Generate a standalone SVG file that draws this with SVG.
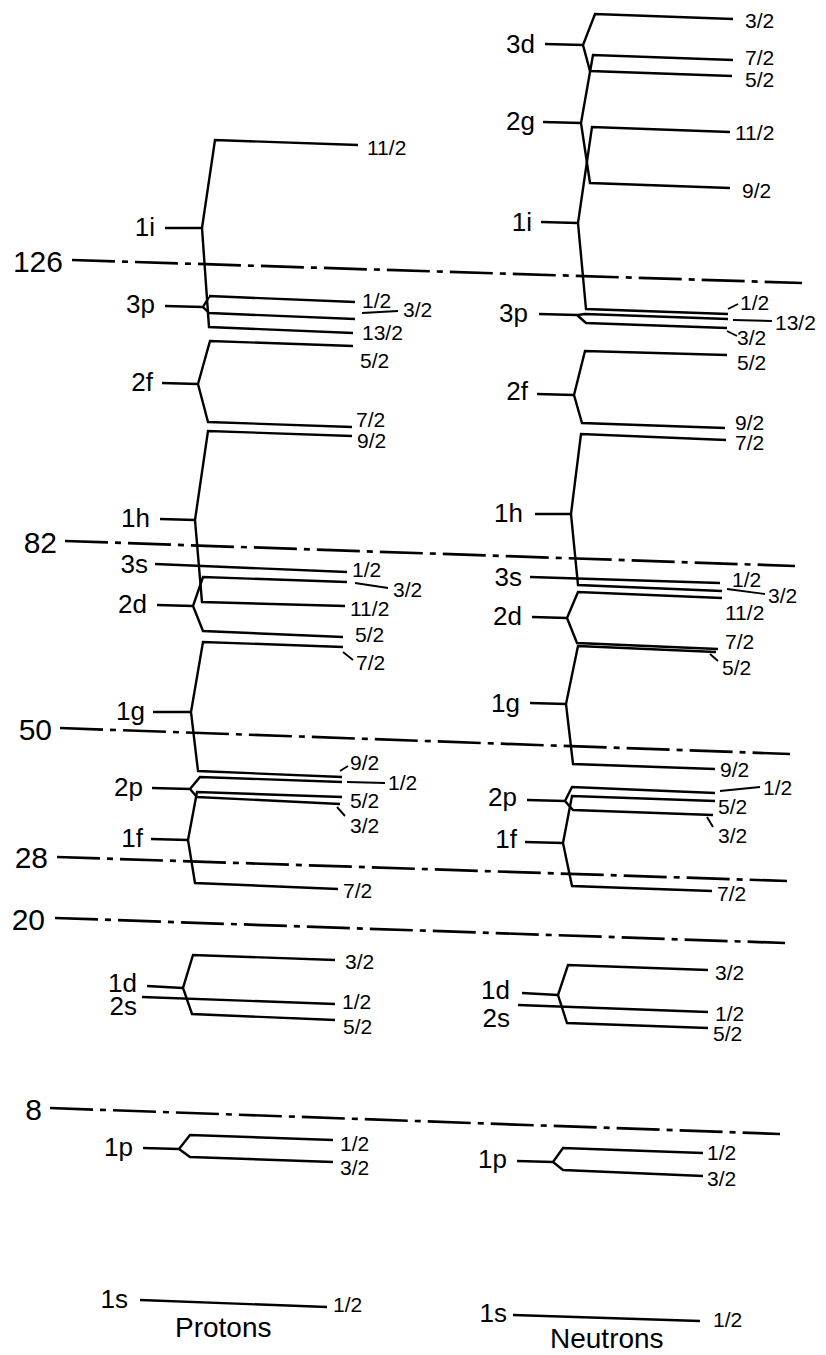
<svg xmlns="http://www.w3.org/2000/svg" width="826" height="1355" viewBox="0 0 826 1355">
<style>
.lv{stroke:#000;stroke-width:2.4;fill:none;stroke-linejoin:miter;stroke-linecap:butt}
.ld{stroke:#000;stroke-width:1.9;fill:none}
.mg{stroke:#000;stroke-width:2.7;fill:none;stroke-dasharray:43 7 6 7}
text{font-family:"Liberation Sans",Arial,Helvetica,sans-serif;fill:#000}
.orb{font-size:26px;text-anchor:end}
.j{font-size:21px}
.mag{font-size:30px;text-anchor:end}
.col{font-size:28px}
</style>
<rect width="826" height="1355" fill="#fff"/>

<g id="magic-numbers">
<path class="mg" d="M72,260 L802,283"/><text class="mag" x="63" y="272">126</text>
<path class="mg" d="M65,541 L795,566"/><text class="mag" x="57" y="553">82</text>
<path class="mg" d="M60,728 L790,754"/><text class="mag" x="52" y="740">50</text>
<path class="mg" d="M57,857 L787,881"/><text class="mag" x="48" y="868">28</text>
<path class="mg" d="M55,918 L785,943"/><text class="mag" x="45" y="930">20</text>
<path class="mg" d="M50,1108 L780,1134"/><text class="mag" x="42" y="1120">8</text>
</g>

<!-- Protons -->
<g id="p-1i">
<text class="orb" x="155" y="236">1i</text>
<path class="lv" d="M165,228 L202,228 M358,145 L215,140 L202,228 L209,327 L353,333"/>
<text class="j" x="367" y="155">11/2</text>
<text class="j" x="362" y="340">13/2</text>
</g>
<g id="p-3p">
<text class="orb" x="155" y="313">3p</text>
<path class="lv" d="M165,306 L203,307 M209,297 L203,307 L209,313 M209,296 L355,302 M209,313 L355,319"/>
<text class="j" x="362" y="308">1/2</text>
<text class="j" x="403" y="317">3/2</text>
</g>
<g id="p-2f">
<text class="orb" x="153" y="391">2f</text>
<path class="lv" d="M162,383 L198,384 M353,346 L210,341 L198,384 L208,422 L352,427"/>
<text class="j" x="360" y="368">5/2</text>
<text class="j" x="356" y="427">7/2</text>
</g>
<g id="p-1h">
<text class="orb" x="150" y="527">1h</text>
<path class="lv" d="M160,519 L195,520 M352,436 L208,431 L195,520 L202,602 L345,606"/>
<text class="j" x="357" y="448">9/2</text>
<text class="j" x="350" y="616">11/2</text>
</g>
<g id="p-3s">
<text class="orb" x="148" y="573">3s</text>
<path class="lv" d="M155,564 L347,572"/>
<text class="j" x="352" y="577">1/2</text>
</g>
<g id="p-2d">
<text class="orb" x="147" y="613">2d</text>
<path class="lv" d="M157,605 L193,606 M347,582 L203,577 L193,606 L203,631 L343,637"/>
<text class="j" x="393" y="597">3/2</text>
<text class="j" x="355" y="642">5/2</text>
</g>
<g id="p-1g">
<text class="orb" x="145" y="720">1g</text>
<path class="lv" d="M153,712 L191,712 M343,647 L203,642 L191,712 L198,771 L342,777"/>
<text class="j" x="356" y="670">7/2</text>
<text class="j" x="350" y="770">9/2</text>
</g>
<g id="p-2p">
<text class="orb" x="143" y="796">2p</text>
<path class="lv" d="M152,788 L190,789 M342,782 L200,777 L190,789 L197,797 L340,804"/>
<text class="j" x="388" y="790">1/2</text>
<text class="j" x="350" y="833">3/2</text>
</g>
<g id="p-1f">
<text class="orb" x="143" y="847">1f</text>
<path class="lv" d="M151,839 L188,840 M342,797 L197,792 L188,840 L195,883 L338,889"/>
<text class="j" x="350" y="808">5/2</text>
<text class="j" x="343" y="898">7/2</text>
</g>
<g id="p-1d">
<text class="orb" x="137" y="992">1d</text>
<path class="lv" d="M147,986 L183,988 M335,960 L193,955 L183,988 L192,1014 L335,1020"/>
<text class="j" x="345" y="969">3/2</text>
<text class="j" x="343" y="1034">5/2</text>
</g>
<g id="p-2s">
<text class="orb" x="137" y="1015">2s</text>
<path class="lv" d="M142,997 L335,1004"/>
<text class="j" x="342" y="1009">1/2</text>
</g>
<g id="p-1p">
<text class="orb" x="133" y="1156">1p</text>
<path class="lv" d="M143,1148 L179,1149 M333,1140 L190,1135 L179,1149 L190,1157 L333,1162"/>
<text class="j" x="340" y="1151">1/2</text>
<text class="j" x="340" y="1175">3/2</text>
</g>
<g id="p-1s">
<text class="orb" x="128" y="1308">1s</text>
<path class="lv" d="M140,1300 L327,1307"/>
<text class="j" x="333" y="1312">1/2</text>
<text class="col" x="175" y="1337">Protons</text>
</g>

<!-- Neutrons -->
<g id="n-3d">
<text class="orb" x="535" y="53">3d</text>
<path class="lv" d="M545,44 L583,45 M733,19 L595,14 L583,45 L590,71 L732,76"/>
<text class="j" x="745" y="28">3/2</text>
<text class="j" x="745" y="87">5/2</text>
</g>
<g id="n-2g">
<text class="orb" x="535" y="130">2g</text>
<path class="lv" d="M543,122 L581,123 M733,60 L593,55 L581,123 L590,183 L730,188"/>
<text class="j" x="745" y="65">7/2</text>
<text class="j" x="742" y="198">9/2</text>
</g>
<g id="n-1i">
<text class="orb" x="532" y="231">1i</text>
<path class="lv" d="M541,222 L578,223 M730,132 L592,127 L578,223 L586,309 L728,314"/>
<text class="j" x="735" y="140">11/2</text>
<text class="j" x="775" y="330">13/2</text>
</g>
<g id="n-3p">
<text class="orb" x="528" y="322">3p</text>
<path class="lv" d="M539,314 L577,315 M728,319 L585,314 L577,315 L586,323 L727,328"/>
<text class="j" x="740" y="310">1/2</text>
<text class="j" x="737" y="345">3/2</text>
</g>
<g id="n-2f">
<text class="orb" x="528" y="400">2f</text>
<path class="lv" d="M537,394 L574,395 M727,355 L585,351 L574,395 L582,423 L725,428"/>
<text class="j" x="737" y="370">5/2</text>
<text class="j" x="735" y="430">9/2</text>
</g>
<g id="n-1h">
<text class="orb" x="523" y="522">1h</text>
<path class="lv" d="M535,514 L571,514 M726,440 L581,434 L571,514 L578,585 L722,591"/>
<text class="j" x="735" y="450">7/2</text>
<text class="j" x="768" y="603">3/2</text>
</g>
<g id="n-3s">
<text class="orb" x="522" y="586">3s</text>
<path class="lv" d="M530,577 L720,583"/>
<text class="j" x="732" y="587">1/2</text>
</g>
<g id="n-2d">
<text class="orb" x="522" y="625">2d</text>
<path class="lv" d="M532,617 L567,618 M722,598 L578,592 L567,618 L577,643 L718,649"/>
<text class="j" x="725" y="620">11/2</text>
<text class="j" x="725" y="649">7/2</text>
</g>
<g id="n-1g">
<text class="orb" x="520" y="712">1g</text>
<path class="lv" d="M530,703 L566,704 M716,652 L578,646 L566,704 L573,764 L715,769"/>
<text class="j" x="722" y="675">5/2</text>
<text class="j" x="720" y="777">9/2</text>
</g>
<g id="n-2p">
<text class="orb" x="517" y="806">2p</text>
<path class="lv" d="M527,800 L565,801 M715,793 L572,787 L565,801 L573,810 L713,815"/>
<text class="j" x="763" y="795">1/2</text>
<text class="j" x="718" y="843">3/2</text>
</g>
<g id="n-1f">
<text class="orb" x="517" y="848">1f</text>
<path class="lv" d="M525,842 L563,843 M715,801 L572,796 L563,843 L572,886 L712,891"/>
<text class="j" x="718" y="814">5/2</text>
<text class="j" x="717" y="901">7/2</text>
</g>
<g id="n-1d">
<text class="orb" x="510" y="999">1d</text>
<path class="lv" d="M522,993 L558,995 M708,970 L568,965 L558,995 L567,1023 L708,1028"/>
<text class="j" x="715" y="980">3/2</text>
<text class="j" x="713" y="1041">5/2</text>
</g>
<g id="n-2s">
<text class="orb" x="510" y="1027">2s</text>
<path class="lv" d="M518,1005 L708,1012"/>
<text class="j" x="715" y="1021">1/2</text>
</g>
<g id="n-1p">
<text class="orb" x="507" y="1168">1p</text>
<path class="lv" d="M517,1161 L553,1162 M703,1153 L563,1148 L553,1162 L563,1170 L703,1176"/>
<text class="j" x="707" y="1160">1/2</text>
<text class="j" x="707" y="1186">3/2</text>
</g>
<g id="n-1s">
<text class="orb" x="507" y="1322">1s</text>
<path class="lv" d="M513,1315 L700,1321"/>
<text class="j" x="713" y="1327">1/2</text>
<text class="col" x="550" y="1348">Neutrons</text>
</g>

<g id="connectors">
<path class="ld" d="M362,313 L398,311"/>
<path class="ld" d="M355,583 L388,588"/>
<path class="ld" d="M343,652 L353,660"/>
<path class="ld" d="M340,771 L348,766"/>
<path class="ld" d="M347,782 L385,783"/>
<path class="ld" d="M337,807 L345,816"/>
<path class="ld" d="M728,309 L738,304"/>
<path class="ld" d="M733,320 L772,321"/>
<path class="ld" d="M727,331 L737,336"/>
<path class="ld" d="M727,589 L765,594"/>
<path class="ld" d="M710,654 L718,661"/>
<path class="ld" d="M720,791 L760,787"/>
<path class="ld" d="M707,817 L713,827"/>
</g>
</svg>
